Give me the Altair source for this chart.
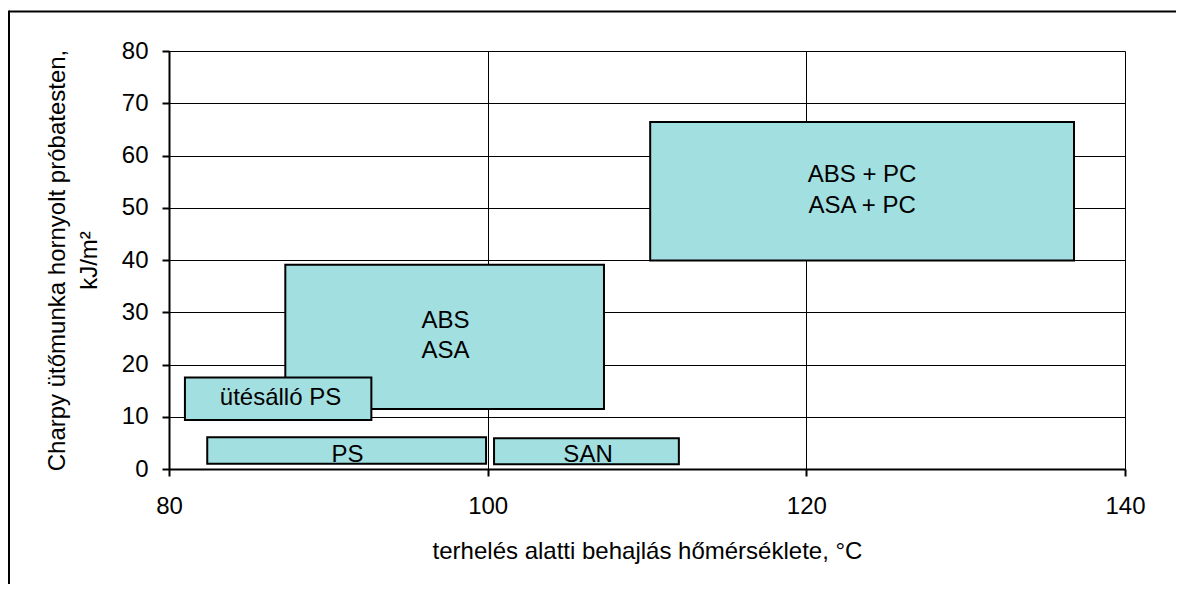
import altair as alt
import pandas as pd

# Boxes (material ranges)
materials = ["ABS + PC / ASA + PC", "ABS / ASA", "ütésálló PS", "PS", "SAN"]
x_start = [110.2, 87.3, 81.0, 82.4, 100.4]
x_end = [136.8, 107.3, 92.7, 99.9, 112.0]
y_low = [39.9, 11.5, 9.4, 1.0, 0.9]
y_high = [66.4, 39.1, 17.5, 6.1, 5.9]

# Text labels inside the boxes
label_text = ["ABS + PC", "ASA + PC", "ABS", "ASA", "ütésálló PS", "PS", "SAN"]
label_x = [123.5, 123.5, 97.35, 97.35, 87.0, 91.2, 106.3]
label_y = [56.2, 50.3, 28.3, 22.5, 13.6, 2.7, 2.7]

x_ticks = [80, 100, 120, 140]
y_ticks = [0, 10, 20, 30, 40, 50, 60, 70, 80]

FONT = "Liberation Sans"
FS = 24

boxes = pd.DataFrame({"material": materials, "x0": x_start, "x1": x_end,
                      "y0": y_low, "y1": y_high, "order": list(range(len(materials)))})
labels = pd.DataFrame({"text": label_text, "x": label_x, "y": label_y})

xscale = alt.Scale(domain=[80, 140], nice=False, zero=False)
yscale = alt.Scale(domain=[0, 80], nice=False, zero=False)

xaxis = alt.Axis(values=x_ticks, grid=True, gridColor="#000000", gridWidth=1,
                 domainColor="#000000", domainWidth=2, tickColor="#000000",
                 tickWidth=2, tickSize=7, labelFont=FONT, labelFontSize=FS,
                 labelColor="#000000", labelPadding=18, titleFont=FONT,
                 titleFontSize=FS, titleFontWeight="normal", titleColor="#000000",
                 titlePadding=21, labelFlush=False)
yaxis = alt.Axis(values=y_ticks, grid=True, gridColor="#000000", gridWidth=1,
                 domainColor="#000000", domainWidth=2, tickColor="#000000",
                 tickWidth=2, tickSize=7, labelFont=FONT, labelFontSize=FS,
                 labelColor="#000000", labelPadding=14, titleFont=FONT,
                 titleFontSize=FS, titleFontWeight="normal", titleColor="#000000",
                 titlePadding=20, titleLineHeight=32, labelFlush=False)

rects = alt.Chart(boxes).mark_rect(fill="#A2DFE0", stroke="#000000", strokeWidth=2).encode(
    x=alt.X("x0:Q", scale=xscale, axis=xaxis,
            title="terhelés alatti behajlás hőmérséklete, °C"),
    x2="x1:Q",
    y=alt.Y("y0:Q", scale=yscale, axis=yaxis,
            title=["Charpy ütőmunka hornyolt próbatesten,", "kJ/m²"]),
    y2="y1:Q",
    order="order:Q",
)

texts = alt.Chart(labels).mark_text(font=FONT, fontSize=FS, color="#000000",
                                    align="center", baseline="middle").encode(
    x=alt.X("x:Q", scale=xscale),
    y=alt.Y("y:Q", scale=yscale),
    text="text:N",
)

frame_df = pd.DataFrame({"k": [0]})
frame_top = alt.Chart(frame_df).mark_rule(stroke="#000000", strokeWidth=2).encode(
    x=alt.value(-160), x2=alt.value(1100), y=alt.value(-39.5)
)
frame_left = alt.Chart(frame_df).mark_rule(stroke="#000000", strokeWidth=2).encode(
    x=alt.value(-160), y=alt.value(-40.5), y2=alt.value(700)
)

chart = alt.layer(rects, texts, frame_top, frame_left).properties(
    width=956, height=418,
    autosize=alt.AutoSizeParams(type="none"),
    padding={"left": 161, "top": 43, "right": 51, "bottom": 115},
).configure_view(stroke=None).configure(background="#ffffff")

chart.save("out.html", embed_options={"renderer": "svg", "actions": False})
